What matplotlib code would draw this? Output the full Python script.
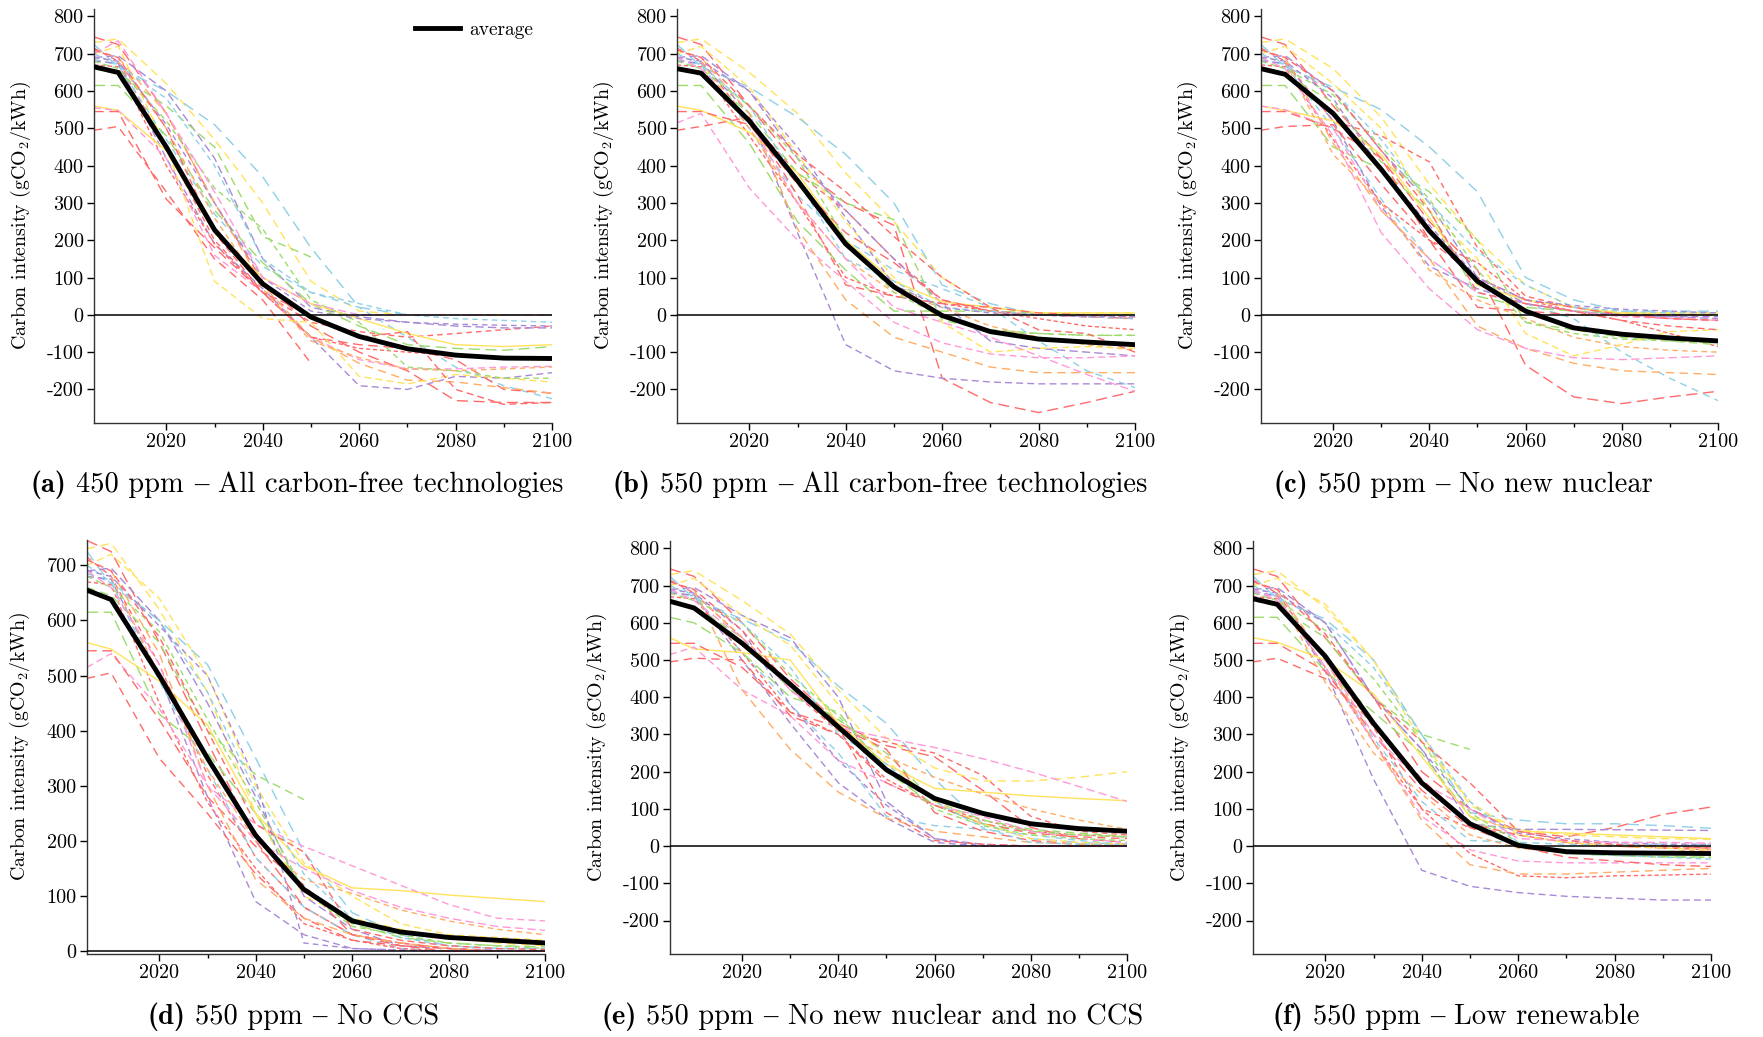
import matplotlib
matplotlib.use("Agg")
import matplotlib.pyplot as plt
from matplotlib.offsetbox import TextArea, HPacker, AnnotationBbox
import numpy as np

plt.rcParams['font.family'] = ['cmr10', 'DejaVu Serif']
plt.rcParams['mathtext.fontset'] = 'cm'
plt.rcParams['axes.unicode_minus'] = False

nan = np.nan
years = [2005, 2010, 2020, 2030, 2040, 2050, 2060, 2070, 2080, 2090, 2100]

# model line styles (one per scenario model)
model_colors = ['#ff6b6b', '#ffe35c', '#8fd0e6', '#ff6b6b', '#a98ad6', '#8fd0e6',
                '#a98ad6', '#ff6b6b', '#9ddc6c', '#9ddc6c', '#ffe35c', '#ff9ad8',
                '#ff6b6b', '#ff6b6b', '#ffad66', '#ffad66', '#ffe35c', '#9ddc6c',
                '#8fd0e6', '#a98ad6', '#ff9ad8', '#ff6b6b']
model_dashes = [(8, 4), (6, 4), (8, 5), (4, 3), (6, 3), (5, 4), (5, 3), (3, 2),
                (6, 4), (8, 4), None, (5, 3), (7, 4), (6, 4), (6, 4), (4, 3),
                (5, 3), (4, 3), (4, 3), (4, 3), (6, 3), (5, 3)]

# (a) 450 ppm - all carbon-free technologies
lines_a = [
    [745, 725, 540, 300, 90, -30, -100, -150, -230, -235, -235],
    [730, 740, 620, 470, 300, 90, 10, 0, 0, 0, 0],
    [725, 665, 600, 510, 370, 180, 20, 0, 0, 0, 0],
    [715, 680, 450, 200, 60, -20, -45, -60, -50, -40, -30],
    [690, 695, 600, 420, 150, 20, -5, -20, -30, -35, -35],
    [685, 670, 470, 270, 130, 60, 20, -60, -140, -190, -225],
    [680, 675, 420, 190, 70, -60, -190, -200, -165, -170, -155],
    [670, 665, 400, 190, 60, -60, -90, -100, -110, -115, -120],
    [660, 645, 560, 450, 210, 155, nan, nan, nan, nan, nan],
    [615, 615, 480, 280, 140, 30, -30, -80, -90, -95, -85],
    [560, 548, 440, 220, 100, 30, -10, -50, -80, -85, -80],
    [555, 548, 420, 160, 60, -60, -120, -145, -145, -140, -138],
    [545, 545, 310, 180, 60, -60, -80, -90, -120, -200, -210],
    [495, 505, 330, 150, 40, -130, nan, nan, nan, nan, nan],
    [nan, 690, 540, 300, 80, -60, -130, -175, -180, -195, -210],
    [nan, 680, 500, 260, 70, -70, -115, -145, -150, -145, -140],
    [700, 720, 450, 90, -10, -20, -165, -185, -160, -170, -180],
    [680, 660, 520, 340, 230, 40, -20, -140, -150, -170, -170],
    [700, 670, 580, 400, 150, 60, 30, 0, -10, -15, -20],
    [690, 680, 510, 300, 100, 10, -10, -20, -25, -28, -30],
    [700, 735, 540, 330, 100, 30, 0, 0, 0, 0, 0],
    [710, 690, 500, 220, 60, 0, -60, -45, -200, -240, -235],
]
avg_a = [665, 650, 450, 228, 83, -6, -58, -91, -108, -116, -117]

# (b) 550 ppm - all carbon-free technologies
lines_b = [
    [745, 725, 560, 400, 300, 240, -170, -235, -262, -235, -205],
    [730, 740, 650, 540, 380, 250, 100, 20, 5, 5, 5],
    [725, 665, 610, 530, 430, 300, 80, 30, 0, 0, 0],
    [715, 680, 520, 380, 280, 150, 40, 10, 0, -5, -10],
    [690, 695, 600, 420, 280, 150, 30, -70, -90, -100, -110],
    [685, 670, 500, 320, 200, 120, 70, 20, -70, -150, -195],
    [680, 675, 540, 220, -80, -150, -170, -180, -185, -185, -185],
    [670, 665, 480, 300, 100, 50, 30, 10, -10, -30, -40],
    [660, 645, 540, 380, 300, 255, -15, -40, -50, -55, -55],
    [615, 615, 460, 250, 120, 10, 10, 10, 5, 0, 0],
    [560, 548, 490, 380, 200, 90, 35, 20, 5, 5, 5],
    [515, 540, 340, 200, 90, -20, -75, -105, -115, -115, -110],
    [545, 545, 510, 350, 220, 140, 40, 10, 0, -5, -10],
    [495, 505, 530, 320, 80, 50, 30, 20, 5, 0, -5],
    [nan, 690, 540, 230, 40, -60, -100, -140, -155, -155, -155],
    [nan, 680, 500, 300, 150, 60, 20, -30, -60, -80, -95],
    [700, 720, 610, 430, 250, 100, -20, -100, -90, -85, -90],
    [680, 660, 560, 420, 200, 60, -5, -45, -50, -55, -55],
    [700, 670, 560, 360, 150, 90, 20, 10, 0, -5, -10],
    [690, 680, 600, 450, 260, 80, 20, 5, 0, -5, -5],
    [690, 660, 520, 300, 150, 20, -20, -60, -110, -160, -205],
    [710, 690, 560, 430, 330, 210, 100, 20, -40, -50, -100],
]
avg_b = [660, 648, 520, 360, 190, 75, -2, -45, -65, -73, -80]

# (c) 550 ppm - no new nuclear
lines_c = [
    [745, 725, 560, 420, 250, 120, -135, -220, -238, -220, -205],
    [730, 740, 660, 530, 350, 200, 80, 20, 5, 5, 5],
    [725, 665, 610, 550, 450, 330, 100, 40, 10, 10, 10],
    [715, 680, 520, 480, 410, 180, 50, 20, 0, -10, -15],
    [690, 695, 600, 440, 300, 100, 30, 10, 0, -5, -10],
    [685, 670, 500, 310, 150, 60, 30, -10, -100, -170, -230],
    [680, 675, 520, 290, 130, 70, 30, 10, 0, -5, -5],
    [670, 665, 470, 300, 200, 140, 40, 10, -15, -50, -85],
    [660, 645, 570, 410, 330, 200, -20, -40, -60, -70, -80],
    [615, 615, 450, 390, 280, 50, 20, 10, 5, 0, 0],
    [560, 548, 520, 430, 260, 80, 40, 20, 5, 5, 5],
    [560, 550, 500, 280, 150, 60, 30, 10, -5, -10, -15],
    [545, 545, 500, 420, 200, 20, 10, 0, 0, 0, 0],
    [495, 505, 510, 350, 200, 100, 40, 20, 0, -10, -15],
    [nan, 690, 460, 280, 150, -30, -90, -130, -150, -155, -160],
    [nan, 680, 430, 300, 120, 40, -10, -60, -85, -95, -100],
    [700, 720, 620, 500, 280, 150, -50, -110, -80, -45, -40],
    [680, 660, 590, 450, 310, 120, -20, -50, -65, -70, -75],
    [700, 670, 600, 470, 300, 170, 80, 20, 10, 5, 5],
    [690, 680, 580, 390, 240, 100, 40, 25, 15, 10, 5],
    [690, 660, 480, 220, 70, -40, -90, -115, -120, -115, -110],
    [710, 690, 600, 440, 280, 60, 30, 10, -15, -30, -40],
]
avg_c = [660, 645, 540, 390, 225, 90, 10, -35, -52, -62, -70]

# (d) 550 ppm - no CCS
lines_d = [
    [745, 725, 560, 380, 200, 80, 30, 15, 5, 0, 0],
    [730, 740, 620, 470, 250, 100, 60, 40, 25, 15, 10],
    [725, 665, 600, 520, 350, 180, 70, 30, 10, 5, 5],
    [715, 680, 520, 320, 170, 80, 30, 15, 5, 0, 0],
    [690, 695, 600, 450, 280, 100, 40, 10, 5, 2, 0],
    [685, 670, 490, 330, 170, 80, 30, 5, 0, 0, 0],
    [680, 675, 500, 280, 90, 30, 5, 2, 0, 0, 0],
    [670, 665, 450, 270, 150, 50, 20, 5, 0, 0, 0],
    [660, 645, 560, 400, 320, 275, nan, nan, nan, nan, nan],
    [615, 615, 430, 360, 250, 110, 50, 25, 15, 10, 8],
    [560, 548, 490, 410, 250, 155, 115, 110, 102, 96, 90],
    [515, 540, 440, 300, 230, 190, 155, 120, 85, 60, 55],
    [545, 545, 420, 280, 190, 120, 30, 10, 0, 0, 0],
    [495, 505, 350, 250, 140, 60, 20, 10, 5, 0, 0],
    [nan, 690, 540, 300, 130, 60, 30, 15, 5, 0, 0],
    [nan, 680, 500, 330, 200, 130, 105, 75, 55, 40, 30],
    [700, 720, 640, 500, 300, 160, 100, 50, 30, 25, 20],
    [680, 660, 580, 420, 270, 110, 45, 30, 15, 10, 5],
    [700, 670, 600, 470, 290, 140, 60, 25, 10, 5, 5],
    [690, 680, 590, 500, 310, 15, 5, 2, 0, 0, 0],
    [690, 660, 520, 300, 200, 150, 110, 80, 60, 45, 38],
    [710, 690, 570, 400, 230, 180, 40, 20, 10, 5, 3],
]
avg_d = [655, 638, 500, 350, 210, 112, 55, 35, 25, 20, 15]

# (e) 550 ppm - no new nuclear and no CCS
lines_e = [
    [745, 725, 600, 450, 330, 270, 240, 150, 50, 20, 10],
    [730, 740, 660, 570, 420, 290, 210, 175, 175, 185, 200],
    [725, 665, 610, 550, 430, 330, 180, 60, 20, 10, 5],
    [715, 680, 560, 420, 310, 280, 250, 190, 80, 40, 30],
    [690, 695, 620, 560, 400, 120, 20, 5, 0, 0, 0],
    [685, 670, 520, 380, 250, 80, 55, 45, 30, 15, 5],
    [680, 675, 500, 330, 170, 75, 10, 0, 0, 0, 0],
    [670, 665, 520, 360, 300, 180, 110, 70, 40, 30, 25],
    [660, 645, 560, 420, 340, 250, 120, 70, 45, 35, 25],
    [615, 600, 520, 400, 360, 200, 110, 60, 40, 30, 25],
    [560, 530, 520, 500, 330, 220, 155, 145, 135, 128, 122],
    [515, 535, 420, 350, 230, 170, 110, 80, 40, 20, 10],
    [545, 545, 480, 360, 320, 260, 90, 40, 15, 5, 0],
    [495, 505, 500, 350, 300, 170, 110, 60, 35, 25, 20],
    [nan, 690, 420, 260, 145, 75, 40, 25, 10, 5, 5],
    [nan, 680, 560, 440, 310, 240, 185, 140, 100, 70, 45],
    [700, 720, 620, 540, 380, 230, 120, 60, 20, 10, 5],
    [680, 660, 600, 460, 350, 210, 100, 55, 30, 20, 15],
    [700, 670, 600, 480, 300, 220, 120, 50, 10, 5, 5],
    [690, 680, 580, 380, 230, 110, 20, 0, 0, 0, 0],
    [690, 660, 560, 420, 320, 290, 265, 235, 200, 160, 120],
    [710, 690, 580, 430, 320, 90, 15, 5, 0, 0, 0],
]
avg_e = [658, 640, 545, 435, 320, 205, 128, 88, 60, 47, 40]

# (f) 550 ppm - low renewable
lines_f = [
    [745, 725, 560, 400, 200, 100, 40, 25, 50, 85, 105],
    [730, 740, 640, 500, 300, 110, 45, 30, 25, 20, 18],
    [725, 665, 610, 500, 300, 90, 70, 60, 60, 55, 48],
    [715, 680, 500, 320, 100, 50, 30, 10, 0, -5, -10],
    [690, 695, 600, 400, 260, 60, 45, 45, 44, 43, 42],
    [685, 670, 480, 290, 120, 15, 10, 5, 5, 5, 5],
    [680, 675, 470, 180, -65, -108, -125, -135, -140, -145, -145],
    [670, 665, 480, 280, 100, -20, -80, -85, -80, -78, -75],
    [660, 645, 560, 400, 300, 260, nan, nan, nan, nan, nan],
    [615, 615, 470, 360, 250, 80, 0, -20, -25, -28, -30],
    [560, 548, 500, 410, 240, 80, 40, 35, 30, 25, 20],
    [680, 670, 480, 280, 80, -10, -40, -45, -45, -45, -45],
    [545, 545, 470, 300, 150, 50, 0, -30, -40, -50, -55],
    [495, 505, 450, 330, 180, 60, 30, 10, 0, -5, -5],
    [nan, 690, 500, 280, 70, -50, -75, -75, -70, -65, -60],
    [nan, 680, 440, 250, 140, 30, -5, -20, -20, -15, -10],
    [700, 720, 650, 500, 280, 120, 30, 10, 0, -5, -10],
    [680, 660, 580, 450, 280, 90, 10, -20, -25, -30, -30],
    [700, 670, 600, 480, 300, 120, 10, -20, -25, -30, -35],
    [690, 680, 600, 400, 260, 100, 35, 20, 10, 5, 5],
    [690, 660, 500, 300, 170, 100, 20, 15, 10, 10, 8],
    [710, 690, 570, 400, 280, 170, 40, 15, 5, 0, -5],
]
avg_f = [665, 650, 510, 330, 170, 60, 2, -15, -18, -19, -20]

captions = [
    ('a', '450 ppm', 'All carbon-free technologies'),
    ('b', '550 ppm', 'All carbon-free technologies'),
    ('c', '550 ppm', 'No new nuclear'),
    ('d', '550 ppm', 'No CCS'),
    ('e', '550 ppm', 'No new nuclear and no CCS'),
    ('f', '550 ppm', 'Low renewable'),
]

W, H = 1763, 1037
fig = plt.figure(figsize=(W / 100, H / 100), dpi=100)

# axes boxes in pixels: x0, x1, y0(top), y1(bottom)
boxes = [(94, 552, 9, 423), (677, 1135, 9, 423), (1261, 1718, 9, 423),
         (87, 545, 540, 954), (670, 1127, 541, 954), (1253, 1711, 541, 954)]
# distance from the left spine to the y-label
label_gap = [61, 61, 61, 55, 61, 61]
caption_x = [297, 880, 1463, 293, 872, 1456]
caption_y = [485, 485, 485, 1017, 1017, 1017]

all_lines = [lines_a, lines_b, lines_c, lines_d, lines_e, lines_f]
all_avg = [avg_a, avg_b, avg_c, avg_d, avg_e, avg_f]

for i in range(6):
    x0, x1, y0, y1 = boxes[i]
    ax = fig.add_axes([x0 / W, 1 - y1 / H, (x1 - x0) / W, (y1 - y0) / H])
    for j, vals in enumerate(all_lines[i]):
        ln, = ax.plot(years, vals, color=model_colors[j], lw=1.0)
        if model_dashes[j] is not None:
            ln.set_dashes(model_dashes[j])
    ax.axhline(0, color='black', lw=1.1, zorder=3)
    ax.plot(years, all_avg[i], color='black', lw=3.5, zorder=4, label='average')

    ax.set_xlim(2005, 2100)
    ax.set_xticks([2020, 2040, 2060, 2080, 2100])
    ax.set_xticklabels(['2020', '2040', '2060', '2080', '2100'])
    ax.set_xticks([2030, 2050, 2070, 2090], minor=True)
    if i == 3:
        ax.set_ylim(-5, 746)
        yt = list(range(0, 701, 100))
    else:
        ax.set_ylim(-290, 820)
        yt = list(range(-200, 801, 100))
    ax.set_yticks(yt)
    ax.set_yticklabels([str(t) for t in yt])
    ax.tick_params(axis='both', which='major', direction='out', length=5,
                   width=1.0, labelsize=14.5, pad=2.5)
    ax.tick_params(axis='x', which='minor', direction='out', length=3, width=1.0)
    for s in ['top', 'right']:
        ax.spines[s].set_visible(False)
    for s in ['left', 'bottom']:
        ax.spines[s].set_linewidth(1.0)
        ax.spines[s].set_color('#333333')
    ax.set_ylabel(r'Carbon intensity (gCO$_2$/kWh)', fontsize=14.3)
    ax.yaxis.set_label_coords(-label_gap[i] / (x1 - x0), 0.5)

    if i == 0:
        ax.legend(loc='upper right', frameon=False, fontsize=14,
                  handlelength=2.3, handletextpad=0.5, borderaxespad=0.2,
                  bbox_to_anchor=(0.985, 1.0))

    letter, part1, part2 = captions[i]
    cap_props = dict(family='cmr10', size=20.5)
    pieces = [TextArea('(' + letter + ')', textprops=dict(family='cmb10', size=20.5)),
              TextArea(part1, textprops=cap_props),
              TextArea('–', textprops=dict(family='Liberation Serif', size=20.5)),
              TextArea(part2, textprops=cap_props)]
    box = HPacker(children=pieces, align='baseline', pad=0, sep=7)
    ab = AnnotationBbox(box, (caption_x[i] / W, 1 - caption_y[i] / H),
                        xycoords='figure fraction', frameon=False,
                        box_alignment=(0.5, 0.5))
    fig.add_artist(ab)

fig.savefig('out.png', dpi=100)
